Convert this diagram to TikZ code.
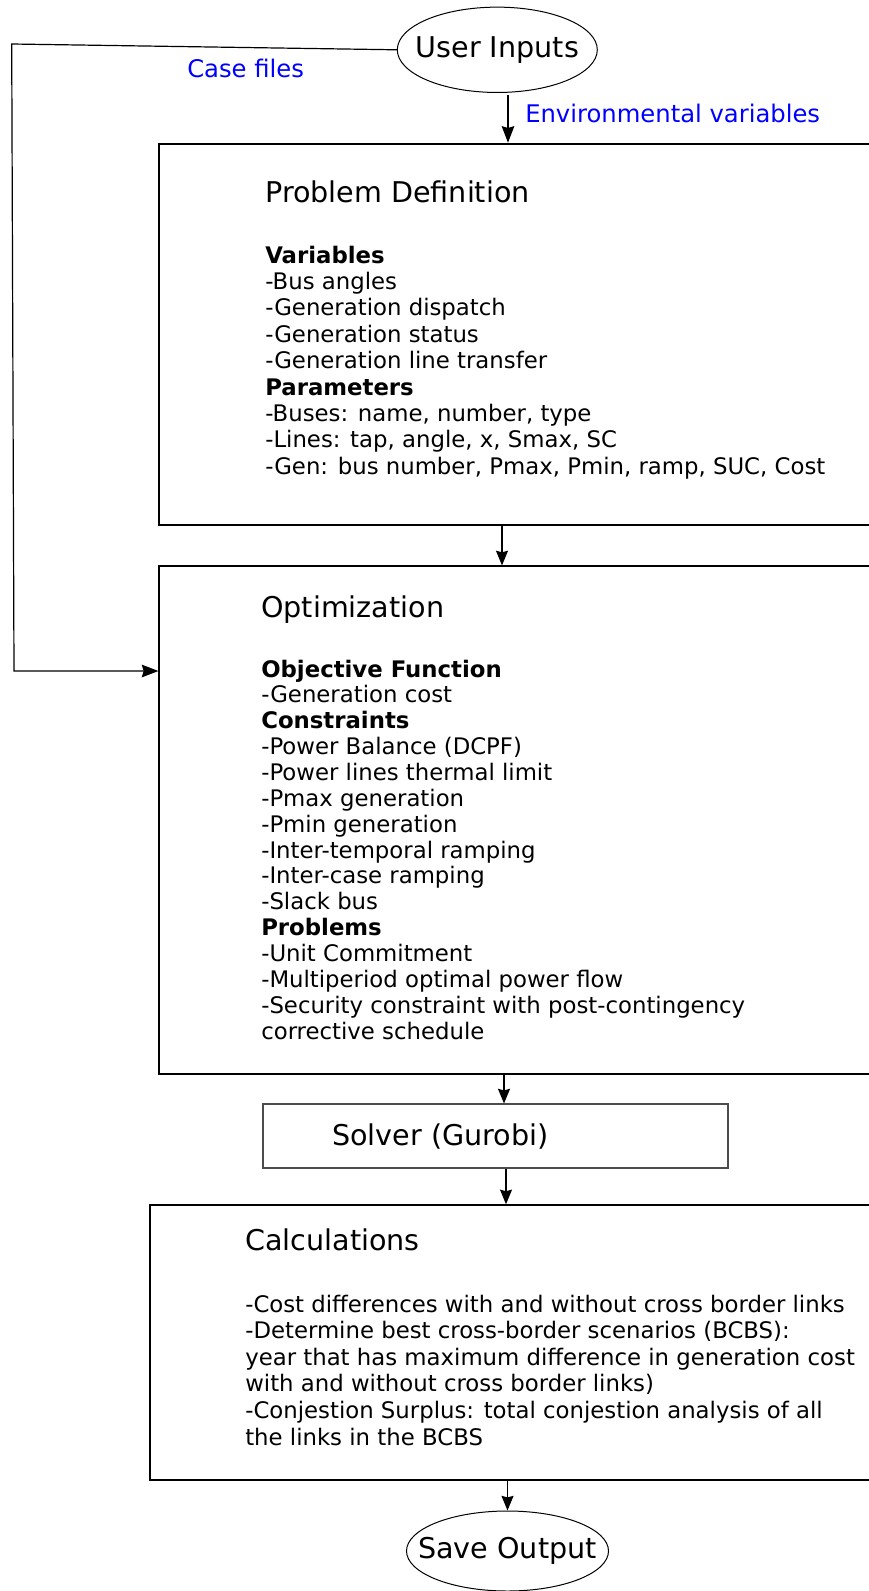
\documentclass[tikz,border=0pt]{standalone}
\usepackage{fontspec}
\setmainfont{DejaVu Sans}
\usetikzlibrary{arrows.meta,shapes.geometric,fit}
\definecolor{labelblue}{RGB}{0,0,255}
\begin{document}
\begin{tikzpicture}[x=0.75pt,y=-0.75pt,
  arr/.style={draw, line width=0.9pt, -{Stealth[length=11pt,width=9pt,inset=1.2pt]}},
  bigarr/.style={draw, line width=0.9pt, -{Stealth[length=12.5pt,width=9.5pt,inset=1.5pt]}},
  titletext/.style={anchor=base west, inner sep=0pt, font=\fontsize{21.45}{25}\selectfont},
  bodytext/.style={anchor=base west, inner sep=0pt, font=\fontsize{17.1}{#1}\selectfont},
  captext/.style={anchor=base west, inner sep=0pt, text=labelblue, font=\fontsize{18.2}{21}\selectfont},
  terminal/.style={draw, ellipse, inner sep=0pt, line width=0.75pt, font=\fontsize{21.45}{25}\selectfont},
  panel/.style={draw, inner sep=0pt, line width=#1}
]
% page frame
\useasboundingbox[fill=white] (0,0) rectangle (868,1591);

% x positions of the vertical connectors
\coordinate (ax1) at (508,0);
\coordinate (ax2) at (502,0);
\coordinate (ax3) at (504,0);
\coordinate (ax4) at (506,0);
% corners of the case-file feed line
\coordinate (cf1) at (11.7,44);
\coordinate (cf2) at (14,671);

% start terminal
\node[terminal, minimum width=150pt, minimum height=64pt] (ui) at (497.3,49.8) {\makebox[0pt]{User Inputs}};

% stage boxes
\node[panel=1.9pt, fit={(159,144) (890,525)}] (pd) {};
\node[panel=0.9pt, fit={(159,566) (890,1074)}] (opt) {};
\node[panel=0.8pt, draw=black!70, fit={(263,1104) (728,1168)}] (sol) {};
\node[panel=1.1pt, fit={(150,1205) (890,1480)}] (calc) {};

% end terminal
\node[terminal, minimum width=151.5pt, minimum height=60pt] (so) at (507.5,1551) {\makebox[0pt]{Save Output}};

% Problem Definition
\node[titletext] (pdtitle) at (265,202) {Problem Definition};
\node[bodytext=19.8] (pdbody) at (265,263) {\begin{tabular}[t]{@{}l@{}}
\textbf{Variables}\\
-Bus angles\\
-Generation dispatch\\
-Generation status\\
-Generation line transfer\\
\textbf{Parameters}\\
-Buses: name, number, type\\
-Lines: tap, angle, x, Smax, SC\\
-Gen: bus number, Pmax, Pmin, ramp, SUC, Cost
\end{tabular}};

% Optimization
\node[titletext] (opttitle) at (261,617) {Optimization};
\node[bodytext=19.4] (optbody) at (261,677) {\begin{tabular}[t]{@{}l@{}}
\textbf{Objective Function}\\
-Generation cost\\
\textbf{Constraints}\\
-Power Balance (DCPF)\\
-Power lines thermal limit\\
-Pmax generation\\
-Pmin generation\\
-Inter-temporal ramping\\
-Inter-case ramping\\
-Slack bus\\
\textbf{Problems}\\
-Unit Commitment\\
-Multiperiod optimal power flow\\
-Security constraint with post-contingency\\
corrective schedule
\end{tabular}};

% Solver
\node[titletext] (soltext) at (332,1145) {Solver (Gurobi)};

% Calculations
\node[titletext] (calctitle) at (245,1250) {Calculations};
\node[bodytext=19.95] (calcbody) at (245,1312) {\begin{tabular}[t]{@{}l@{}}
-Cost differences with and without cross border links\\
-Determine best cross-border scenarios (BCBS):\\
year that has maximum difference in generation cost\\
with and without cross border links)\\
-Conjestion Surplus: total conjestion analysis of all\\
the links in the BCBS
\end{tabular}};

% connector labels
\node[captext] (cflabel) at (187,78) {Case files};
\node[captext] (evlabel) at (525,122.5) {Environmental variables};

% connectors
\draw[bigarr] ([yshift=-1.5pt]ui.south -| ax1) -- (pd.north -| ax1);
\draw[bigarr] (ui.west) -- (cf1) -- (cf2) -- (cf2 -| opt.west);
\draw[arr] (pd.south -| ax2) -- (opt.north -| ax2);
\draw[arr] (opt.south -| ax3) -- (sol.north -| ax3);
\draw[arr] (sol.south -| ax4) -- (calc.north -| ax4);
\draw[arr] (so.north |- calc.south) -- (so.north);
\end{tikzpicture}
\end{document}
